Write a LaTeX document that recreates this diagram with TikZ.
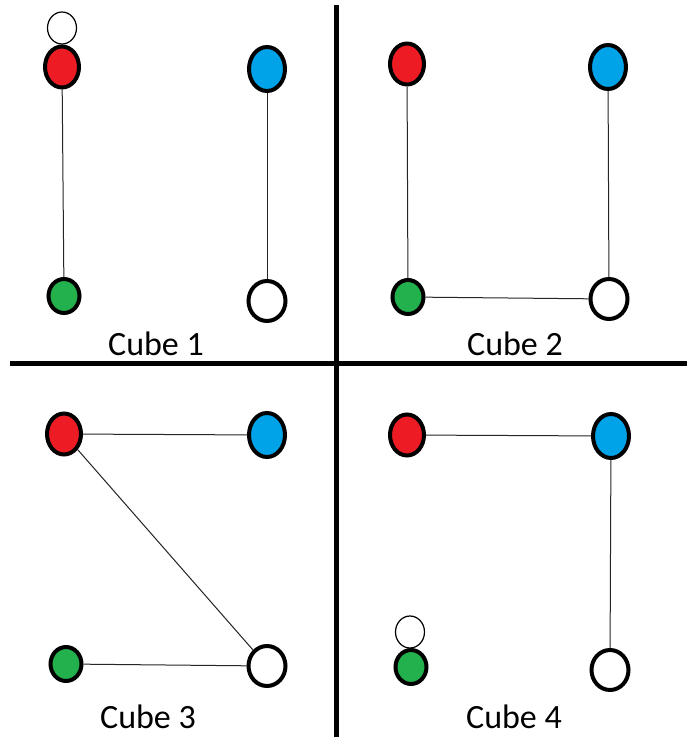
\documentclass[tikz,border=0pt]{standalone}
\usepackage{fontspec}
\setmainfont{Carlito}
\usetikzlibrary{shapes.geometric}
\definecolor{cred}{HTML}{ED1C24}
\definecolor{cblue}{HTML}{00A2E8}
\definecolor{cgreen}{HTML}{22B14C}
\tikzset{
  dot/.style={ellipse, draw=black, line width=4pt, inner sep=0pt},
  rdot/.style={dot, fill=cred, minimum width=34pt, minimum height=41pt},
  bdot/.style={dot, fill=cblue, minimum width=36pt, minimum height=44pt},
  gdot/.style={dot, fill=cgreen, minimum width=31pt, minimum height=34pt},
  wdot/.style={dot, fill=white, minimum width=37pt, minimum height=40pt},
  sdot/.style={ellipse, draw=black, line width=1.2pt, fill=white, inner sep=0pt,
               minimum width=29pt, minimum height=32pt},
  edge/.style={draw=black!85, line width=1pt},
  divider/.style={draw=black, line width=5pt},
  label/.style={anchor=base, font=\fontsize{34pt}{40pt}\selectfont, inner sep=0pt}
}
\begin{document}
\begin{tikzpicture}[x=1pt, y=-1pt]
\useasboundingbox (0,0) rectangle (687,737);
\fill[white] (0,0) rectangle (687,737);

% quadrant dividers
\coordinate (vtop) at (336,5);
\coordinate (vbot) at (336,737);
\coordinate (hl) at (10,363);
\coordinate (hr) at (687,363);
\draw[divider] (vtop) -- (vbot);
\draw[divider] (hl) -- (hr);

% Cube 1
\node[sdot] (s1) at (62,28) {};
\node[rdot] (r1) at (62,67) {};
\node[bdot] (b1) at (267,69) {};
\node[gdot] (g1) at (64,296) {};
\node[wdot] (w1) at (267,301) {};
\draw[edge] (r1) -- (g1);
\draw[edge] (b1) -- (w1);
\node[label] (l1) at (156,355) {Cube 1};

% Cube 2
\node[rdot] (r2) at (407,64) {};
\node[bdot] (b2) at (608,67) {};
\node[gdot] (g2) at (408,297) {};
\node[wdot] (w2) at (609,299) {};
\draw[edge] (r2) -- (g2);
\draw[edge] (b2) -- (w2);
\draw[edge] (g2) -- (w2);
\node[label] (l2) at (515,355) {Cube 2};

% Cube 3
\node[rdot] (r3) at (64,434) {};
\node[bdot] (b3) at (267,435) {};
\node[gdot] (g3) at (66,664) {};
\node[wdot] (w3) at (267,666) {};
\draw[edge] (r3) -- (b3);
\draw[edge] (r3) -- (w3);
\draw[edge] (g3) -- (w3);
\node[label] (l3) at (148,728) {Cube 3};

% Cube 4
\node[rdot] (r4) at (407,435) {};
\node[bdot] (b4) at (611,436) {};
\node[sdot] (s4) at (410,632) {};
\node[gdot] (g4) at (411,667) {};
\node[wdot] (w4) at (610,670) {};
\draw[edge] (r4) -- (b4);
\draw[edge] (b4) -- (w4);
\node[label] (l4) at (514,728) {Cube 4};
\end{tikzpicture}
\end{document}
